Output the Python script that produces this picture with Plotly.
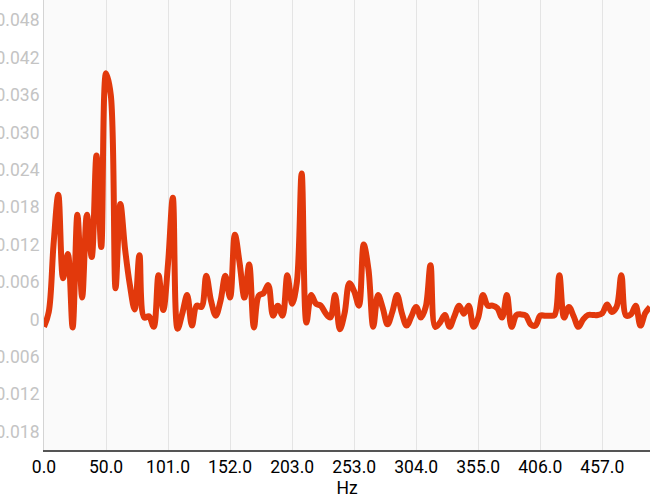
import numpy as np
import plotly.graph_objects as go

# Frequency resolution of the spectrum (Hz per bin)
bin_width_hz = 1000.0 / 256.0

# Spectrum amplitude per bin
amplitude = [
    -0.0012, 0.0012, 0.0120, 0.0200, 0.0066, 0.0105, -0.0013, 0.0168, 0.0035, 0.0168,
    0.0100, 0.0263, 0.0116, 0.0395, 0.0360, 0.0050, 0.0185, 0.0112, 0.0055, 0.0016,
    0.0103, 0.0003, 0.0005, -0.0012, 0.0071, 0.0015, 0.0090, 0.0195, -0.0015, 0.0010,
    0.0039, -0.0010, 0.0022, 0.0020, 0.0070, 0.0030, 0.0006, 0.0030, 0.0070, 0.0035,
    0.0136, 0.0090, 0.0035, 0.0088, -0.0013, 0.0038, 0.0042, 0.0055, 0.0006, 0.0022,
    0.0006, 0.0071, 0.0025, 0.0060, 0.0234, -0.0005, 0.0039, 0.0025, 0.0022, 0.0010,
    0.0003, 0.0039, -0.0016, 0.0010, 0.0058, 0.0045, 0.0022, 0.0120, 0.0080, -0.0012,
    0.0039, 0.0018, -0.0008, 0.0012, 0.0039, 0.0010, -0.0010, 0.0005, 0.0020, 0.0003,
    0.0020, 0.0087, -0.0012, -0.0005, 0.0007, -0.0012, 0.0005, 0.0022, 0.0009, 0.0022,
    -0.0012, 0.0003, 0.0039, 0.0022, 0.0022, 0.0018, 0.0003, 0.0039, -0.0012, 0.0007,
    0.0008, 0.0006, -0.0008, -0.0010, 0.0006, 0.0006, 0.0006, 0.0007, 0.0071, 0.0003,
    0.0020, 0.0005, -0.0012, 0.0000, 0.0007, 0.0007, 0.0007, 0.0010, 0.0024, 0.0012,
    0.0020, 0.0071, 0.0006, 0.0008, 0.0022, -0.0010, 0.0010, 0.0020,
]

# X tick labels, one every 13 bins
x_tick_labels = ["0.0", "50.0", "101.0", "152.0", "203.0", "253.0",
                 "304.0", "355.0", "406.0", "457.0"]
x_tick_step_bins = 13

# Y tick values and labels
y_tick_values = [-0.018, -0.012, -0.006, 0, 0.006, 0.012, 0.018, 0.024,
                 0.030, 0.036, 0.042, 0.048]
y_tick_labels = ["-0.018", "-0.012", "-0.006", "0", "0.006", "0.012", "0.018",
                 "0.024", "0.030", "0.036", "0.042", "0.048"]

freqs = np.arange(len(amplitude)) * bin_width_hz
x_tick_values = [i * x_tick_step_bins * bin_width_hz for i in range(len(x_tick_labels))]

fig = go.Figure()
fig.add_trace(go.Scatter(
    x=freqs, y=amplitude, mode="lines",
    line=dict(color="#E2390C", width=6, shape="spline", smoothing=1),
    hoverinfo="x+y", showlegend=False,
))

fig.update_layout(
    width=650, height=498,
    margin=dict(l=44, r=0, t=0, b=48, autoexpand=False),
    paper_bgcolor="#ffffff",
    plot_bgcolor="#fafafa",
    font=dict(family="Roboto", size=17.5, color="#000000"),
    showlegend=False,
)

fig.update_xaxes(
    range=[0, freqs[-1]],
    tickvals=x_tick_values, ticktext=x_tick_labels,
    showgrid=True, gridcolor="#e4e4e4", gridwidth=1,
    showline=True, linecolor="#555555", linewidth=1.5,
    ticks="", zeroline=False, automargin=False,
    ticklabelstandoff=0,
    tickfont=dict(family="Roboto", size=17.5, color="#000000"),
    title=dict(text="Hz", font=dict(family="Roboto", size=17.5, color="#000000"),
               standoff=8),
)

fig.update_yaxes(
    range=[-0.02096, 0.05125],
    tickvals=y_tick_values, ticktext=y_tick_labels,
    showgrid=False, zeroline=False,
    showline=True, linecolor="#d4d4d4", linewidth=1,
    ticks="", automargin=False,
    tickfont=dict(family="Roboto", size=17.5, color="#c4c4c4"),
)

fig.write_html(
    "out.html",
    config={"displayModeBar": False},
    post_script="document.body.style.margin='0';document.body.style.overflow='hidden';",
)
